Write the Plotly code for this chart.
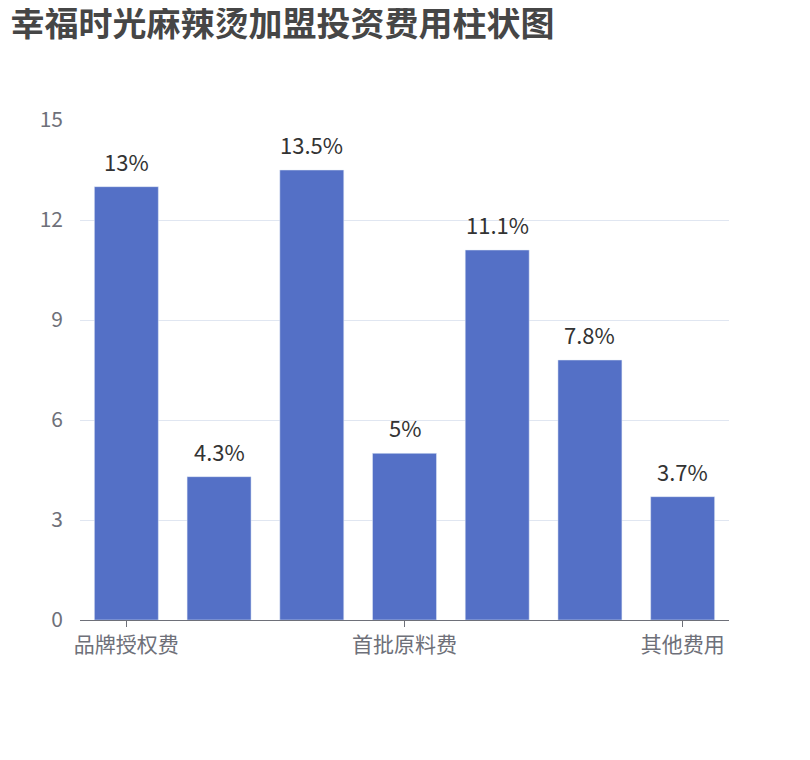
import plotly.graph_objects as go

categories = ["品牌授权费", "加盟费", "装修费", "首批原料费", "设备费", "保证金", "其他费用"]
values = [13, 4.3, 13.5, 5, 11.1, 7.8, 3.7]
shown_ticks = ["品牌授权费", "首批原料费", "其他费用"]
yticks = [0, 3, 6, 9, 12, 15]

font = "Noto Sans CJK SC"
fig = go.Figure(go.Bar(x=categories, y=values, marker_color="#5470c6"))
for c, v in zip(categories, values):
    fig.add_annotation(x=c, y=v, text=f"{v:g}%", showarrow=False, yanchor="bottom", yshift=8,
                       font=dict(size=22, color="#333", family=font))
fig.update_layout(
    width=810, height=760, plot_bgcolor="white", paper_bgcolor="white",
    margin=dict(l=72, r=89, t=112, b=148),
    bargap=0.31, showlegend=False,
    title=dict(text="<b>幸福时光麻辣烫加盟投资费用柱状图</b>", x=0.003, xanchor="left", y=0.995, yanchor="top",
               font=dict(size=34, color="#464646", family=font)),
    font=dict(family=font),
)
fig.update_xaxes(tickvals=shown_ticks, ticktext=shown_ticks, showline=True, linecolor="#6e7079",
                 tickfont=dict(size=21, color="#6e7079"), ticks="outside", ticklen=6,
                 tickcolor="#6e7079", showgrid=False)
fig.update_yaxes(range=[0, 15], tickvals=yticks, gridcolor="#e0e6f1", zeroline=False,
                 tickfont=dict(size=21, color="#6e7079"), ticklabelstandoff=16)
fig.write_html("out.html")
